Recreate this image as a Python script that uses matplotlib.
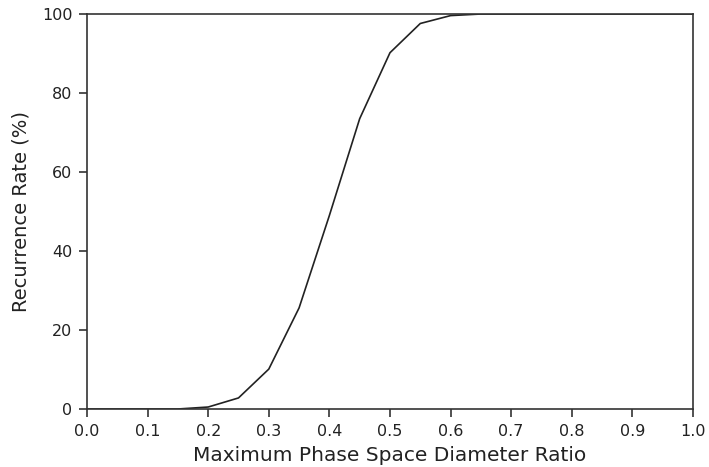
import numpy as np
import matplotlib
matplotlib.use("Agg")
import matplotlib.pyplot as plt

# diameter ratio and recurrence rate
ratio = [0.0, 0.05, 0.1, 0.15, 0.2, 0.25, 0.3, 0.35, 0.4, 0.45, 0.5,
         0.55, 0.6, 0.65, 0.7, 0.75, 0.8, 0.85, 0.9, 0.95, 1.0]
rate = [0.0, 0.0, 0.0, 0.0, 0.5, 2.8, 10.1, 25.6, 49.0, 73.5, 90.2,
        97.6, 99.6, 100.0, 100.0, 100.0, 100.0, 100.0, 100.0, 100.0, 100.0]


def main():
    fig = plt.figure(figsize=(7.09, 4.67), dpi=100)
    ax = fig.add_axes([0.1227, 0.1242, 0.8547, 0.8458])

    ax.plot(ratio, rate, color="#222222", lw=1.2)

    ax.set_xlim(0, 1.0)
    ax.set_ylim(0, 100)
    ax.set_xticks(np.arange(0, 1.01, 0.1))
    ax.set_yticks([0, 20, 40, 60, 80, 100])
    ax.set_xticklabels(["%.1f" % v for v in np.arange(0, 1.01, 0.1)])

    for s in ax.spines.values():
        s.set_color("#333333")
        s.set_linewidth(1.2)
    ax.tick_params(direction="out", length=6, width=1.2, color="#333333",
                   pad=4.5, labelsize=11.5, labelcolor="#222222",
                   top=False, right=False)

    ax.set_xlabel("Maximum Phase Space Diameter Ratio", fontsize=14.5,
                  color="#222222", labelpad=5)
    ax.set_ylabel("Recurrence Rate (%)", fontsize=14, color="#222222",
                  labelpad=8)

    fig.savefig("out.png", dpi=100)


if __name__ == "__main__":
    main()
